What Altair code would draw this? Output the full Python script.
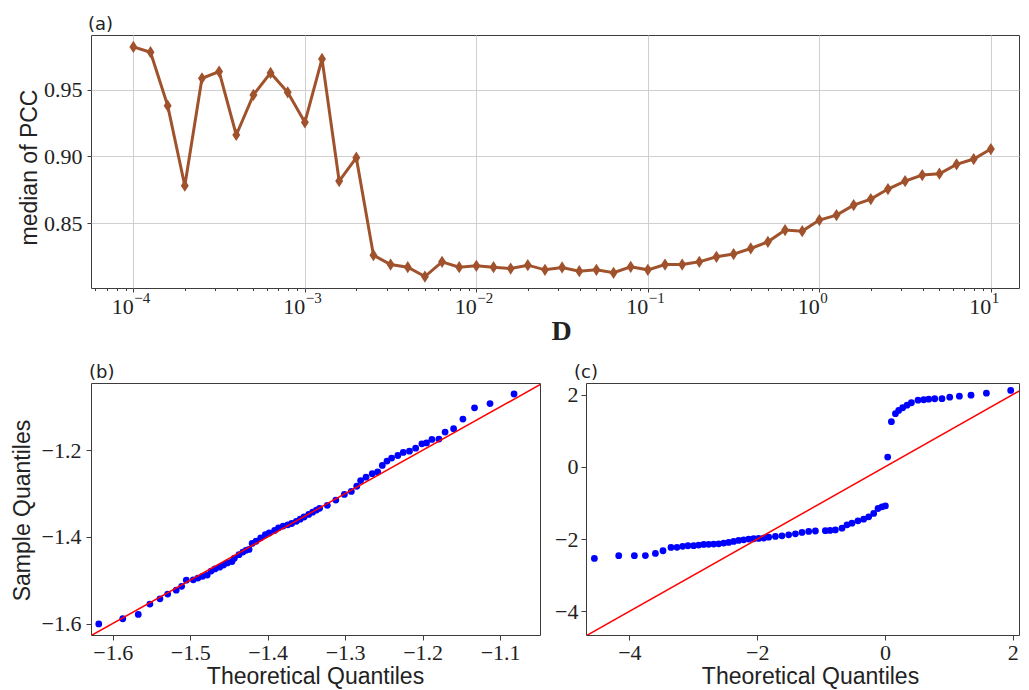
import json
import altair as alt
import pandas as pd

# ---------------- data ----------------
# panel (a): D on a log axis, ten points per decade
D_values = [
    1.000e-4, 1.259e-4, 1.585e-4, 1.995e-4, 2.512e-4, 3.162e-4, 3.981e-4, 5.012e-4, 6.310e-4, 7.943e-4,
    1.000e-3, 1.259e-3, 1.585e-3, 1.995e-3, 2.512e-3, 3.162e-3, 3.981e-3, 5.012e-3, 6.310e-3, 7.943e-3,
    1.000e-2, 1.259e-2, 1.585e-2, 1.995e-2, 2.512e-2, 3.162e-2, 3.981e-2, 5.012e-2, 6.310e-2, 7.943e-2,
    1.000e-1, 1.259e-1, 1.585e-1, 1.995e-1, 2.512e-1, 3.162e-1, 3.981e-1, 5.012e-1, 6.310e-1, 7.943e-1,
    1.000, 1.259, 1.585, 1.995, 2.512, 3.162, 3.981, 5.012, 6.310, 7.943,
    10.0,
]
pcc_median = [
    0.982, 0.978, 0.938, 0.878, 0.9585, 0.9635, 0.916, 0.946, 0.9625, 0.948,
    0.9255, 0.973, 0.8815, 0.899, 0.826, 0.819, 0.817, 0.810, 0.821, 0.817,
    0.818, 0.817, 0.816, 0.8185, 0.815, 0.8168, 0.814, 0.815, 0.8128, 0.8173,
    0.815, 0.819, 0.819, 0.821, 0.8248, 0.8268, 0.831, 0.836, 0.8448, 0.844,
    0.8523, 0.856, 0.8635, 0.868, 0.8755, 0.8815, 0.886, 0.887, 0.894, 0.898,
    0.9055,
]
x_major_ticks_a = [1e-4, 1e-3, 1e-2, 1e-1, 1.0, 10.0]
x_minor_mult_a = [2, 3, 4, 5, 6, 7, 8, 9]
x_label_base_a = "10"
x_label_exponents_a = ["\u22124", "\u22123", "\u22122", "\u22121", "0", "1"]
y_ticks_a = [0.85, 0.90, 0.95]

# panel (b): QQ plot
b_theoretical = [
    -1.618, -1.587, -1.567, -1.552, -1.539, -1.529, -1.518, -1.511, -1.505, -1.496,
    -1.490, -1.484, -1.478, -1.473, -1.468, -1.462, -1.457, -1.452, -1.446, -1.443,
    -1.437, -1.432, -1.428, -1.424, -1.420, -1.415, -1.409, -1.403, -1.398, -1.391,
    -1.386, -1.380, -1.374, -1.369, -1.363, -1.358, -1.353, -1.347, -1.342, -1.337,
    -1.333, -1.323, -1.312, -1.301, -1.292, -1.285, -1.280, -1.273, -1.265, -1.258,
    -1.252, -1.246, -1.240, -1.232, -1.225, -1.217, -1.209, -1.201, -1.195, -1.188,
    -1.179, -1.171, -1.160, -1.148, -1.133, -1.113, -1.082,
]
b_sample = [
    -1.601, -1.589, -1.579, -1.555, -1.543, -1.532, -1.523, -1.514, -1.500, -1.499,
    -1.495, -1.491, -1.488, -1.479, -1.474, -1.470, -1.465, -1.460, -1.457, -1.449,
    -1.441, -1.435, -1.431, -1.429, -1.415, -1.410, -1.402, -1.395, -1.391, -1.385,
    -1.379, -1.375, -1.372, -1.369, -1.364, -1.359, -1.354, -1.348, -1.343, -1.338,
    -1.334, -1.327, -1.315, -1.302, -1.295, -1.283, -1.270, -1.262, -1.254, -1.250,
    -1.235, -1.225, -1.218, -1.212, -1.205, -1.202, -1.195, -1.185, -1.183, -1.175,
    -1.174, -1.158, -1.150, -1.128, -1.102, -1.092, -1.070,
]
b_x_ticks = [-1.6, -1.5, -1.4, -1.3, -1.2, -1.1]
b_y_ticks = [-1.6, -1.4, -1.2]
b_line = [-1.7, -1.0]

# panel (c): QQ plot
c_theoretical = [
    -4.548, -4.167, -3.922, -3.750, -3.593, -3.474, -3.349, -3.255, -3.166, -3.083,
    -2.994, -2.915, -2.837, -2.759, -2.681, -2.602, -2.524, -2.446, -2.368, -2.290,
    -2.211, -2.133, -2.055, -1.977, -1.898, -1.820, -1.715, -1.612, -1.507, -1.402,
    -1.299, -1.194, -1.089, -0.933, -0.860, -0.777, -0.673, -0.595, -0.517, -0.423,
    -0.334, -0.255, -0.177, -0.109, -0.047, 0.006, 0.042, 0.100, 0.163, 0.214,
    0.277, 0.345, 0.413, 0.517, 0.606, 0.684, 0.778, 0.892, 1.013, 1.164,
    1.346, 1.587, 1.967,
]
c_sample = [
    -2.534, -2.460, -2.458, -2.456, -2.396, -2.322, -2.230, -2.228, -2.200, -2.184,
    -2.182, -2.166, -2.147, -2.145, -2.138, -2.129, -2.110, -2.092, -2.064, -2.037,
    -2.018, -2.000, -1.990, -1.981, -1.970, -1.945, -1.926, -1.908, -1.880, -1.853,
    -1.816, -1.788, -1.775, -1.765, -1.760, -1.745, -1.696, -1.605, -1.558, -1.494,
    -1.448, -1.384, -1.290, -1.152, -1.108, -1.080, 0.273, 1.251, 1.472, 1.563,
    1.638, 1.710, 1.776, 1.848, 1.859, 1.875, 1.887, 1.888, 1.931, 1.959,
    1.986, 2.041, 2.116,
]
c_ticks = [-4, -2, 0, 2]
c_line = [-5.0, 2.5]

# ---------------- styling ----------------
SERIF = "Liberation Serif"
SANS = "Liberation Sans"
PANEL_FONT = "DejaVu Sans"
INK = "#222222"
FRAME = "#3c3c3c"
GRID = "#cfcfcf"
BROWN = "#a0522d"
BLUE = "#0000ff"
RED = "#ff0000"
TICK_FS = 22
H_A = 253


def panel_title(text, dx):
    return alt.Title(text, anchor="start", frame="group", font=PANEL_FONT, fontSize=18,
                     fontWeight="normal", color=INK, baseline="alphabetic", offset=-13, dx=dx)


# ---------------- panel (a) ----------------
df_a = pd.DataFrame({"D": D_values, "pcc": pcc_median})
df_sup = pd.DataFrame({"D": x_major_ticks_a, "exp": x_label_exponents_a})
x_ticks_a = sorted(
    x_major_ticks_a
    + [m * d for d in [1e-5] + x_major_ticks_a for m in x_minor_mult_a if 5.66e-5 < m * d < 14.5]
)
major_test = "abs(log(datum.value)/LN10 - round(log(datum.value)/LN10)) < 0.01"
label_expr = f"{major_test} ? '{x_label_base_a}' : ''"

x_a = alt.X(
    "D:Q",
    scale=alt.Scale(type="log", domain=[5.662e-5, 14.59], nice=False),
    axis=alt.Axis(
        values=x_ticks_a,
        labelExpr=label_expr,
        labelOverlap=False,
        labelFlush=False,
        labelFont=SERIF,
        labelFontSize=TICK_FS,
        labelAlign="right",
        labelBaseline="alphabetic",
        labelPadding=21,
        grid=True,
        gridColor=GRID,
        gridOpacity={"condition": {"test": major_test, "value": 1}, "value": 0},
        tickSize={"condition": {"test": major_test, "value": 4}, "value": 2.5},
        title="D",
        titleFont=SERIF,
        titleFontSize=28,
        titleFontWeight="bold",
        titleX=470,
        titleY=51,
        titleBaseline="alphabetic",
        titleAlign="center",
    ),
)
y_a = alt.Y(
    "pcc:Q",
    scale=alt.Scale(domain=[0.8014, 0.9909], nice=False, zero=False),
    axis=alt.Axis(
        values=y_ticks_a,
        format=".2f",
        grid=True,
        gridColor=GRID,
        labelFont=SERIF,
        labelFontSize=TICK_FS,
        labelPadding=5,
        tickSize=4,
        title="median of PCC",
        titleFont=SANS,
        titleFontSize=23,
        titleFontWeight="normal",
        titleAngle=270,
        titleX=-55,
        titleY=132,
        titleBaseline="alphabetic",
        titleAlign="center",
    ),
)
base_a = alt.Chart(df_a).encode(x=x_a, y=y_a)
exponents = alt.Chart(df_sup).mark_text(
    align="left", baseline="alphabetic", font=SERIF, fontSize=15, color=INK, dx=1
).encode(x=alt.X("D:Q"), y=alt.value(H_A + 15), text="exp:N")

chart_a = (
    base_a.mark_line(color=BROWN, strokeWidth=3)
    + base_a.mark_point(
        shape="M0,-1L0.65,0L0,1L-0.65,0Z", filled=True, color=BROWN, size=150, opacity=1
    )
    + exponents
).properties(width=928, height=H_A, title=panel_title("(a)", -3))


def qq_panel(theo, samp, line, xdom, ydom, xticks, yticks, xfmt, yfmt, width, label,
             ytitle, title_dx, ytitle_x, ylabel_pad):
    df = pd.DataFrame({"theo": theo, "samp": samp})
    dl = pd.DataFrame({"lx": line, "ly": line})
    xscale = alt.Scale(domain=xdom, nice=False, zero=False)
    yscale = alt.Scale(domain=ydom, nice=False, zero=False)
    xaxis = alt.Axis(
        values=xticks, format=xfmt, grid=False, labelFont=SERIF, labelFontSize=TICK_FS,
        labelBaseline="alphabetic", labelPadding=19.5, labelFlush=False, labelOverlap=False,
        tickSize=5, title="Theoretical Quantiles", titleFont=SANS, titleFontSize=23,
        titleFontWeight="normal", titleX=224, titleY=48, titleBaseline="alphabetic",
        titleAlign="center",
    )
    yargs = dict(
        values=yticks, format=yfmt, grid=False, labelFont=SERIF, labelFontSize=TICK_FS,
        labelPadding=ylabel_pad, tickSize=5, labelFlush=False, labelOverlap=False,
    )
    if ytitle:
        yargs.update(title=ytitle, titleFont=SANS, titleFontSize=23, titleFontWeight="normal",
                     titleAngle=270, titleX=ytitle_x, titleY=127, titleBaseline="alphabetic",
                     titleAlign="center")
    else:
        yargs.update(title=None)
    yaxis = alt.Axis(**yargs)
    pts = alt.Chart(df).mark_circle(color=BLUE, size=46, opacity=1).encode(
        x=alt.X("theo:Q", scale=xscale, axis=xaxis),
        y=alt.Y("samp:Q", scale=yscale, axis=yaxis),
    )
    ln = alt.Chart(dl).mark_line(color=RED, strokeWidth=1.5, clip=True).encode(
        x=alt.X("lx:Q", scale=xscale), y=alt.Y("ly:Q", scale=yscale)
    )
    return (pts + ln).properties(width=width, height=252, title=panel_title(label, title_dx))


chart_b = qq_panel(b_theoretical, b_sample, b_line, [-1.628, -1.0485], [-1.6265, -1.0446],
                   b_x_ticks, b_y_ticks, ".1f", ".1f", 449, "(b)", "Sample Quantiles", -2, -62, 5)
chart_c = qq_panel(c_theoretical, c_sample, c_line, [-4.679, 2.097], [-4.655, 2.323],
                   c_ticks, c_ticks, "d", "d", 433, "(c)", None, -12, 0, 3)

bottom = alt.hconcat(chart_b, chart_c, spacing=46, bounds="flush")
chart = (
    alt.vconcat(chart_a, bottom, spacing=95, bounds="flush")
    .properties(padding={"left": 2, "top": 7, "right": 0, "bottom": 0})
    .configure_view(stroke=FRAME, strokeWidth=1)
    .configure_axis(domain=False, tickColor=FRAME, labelColor=INK, titleColor=INK)
)

chart.save("out.html", embed_options={"renderer": "svg", "actions": False})
